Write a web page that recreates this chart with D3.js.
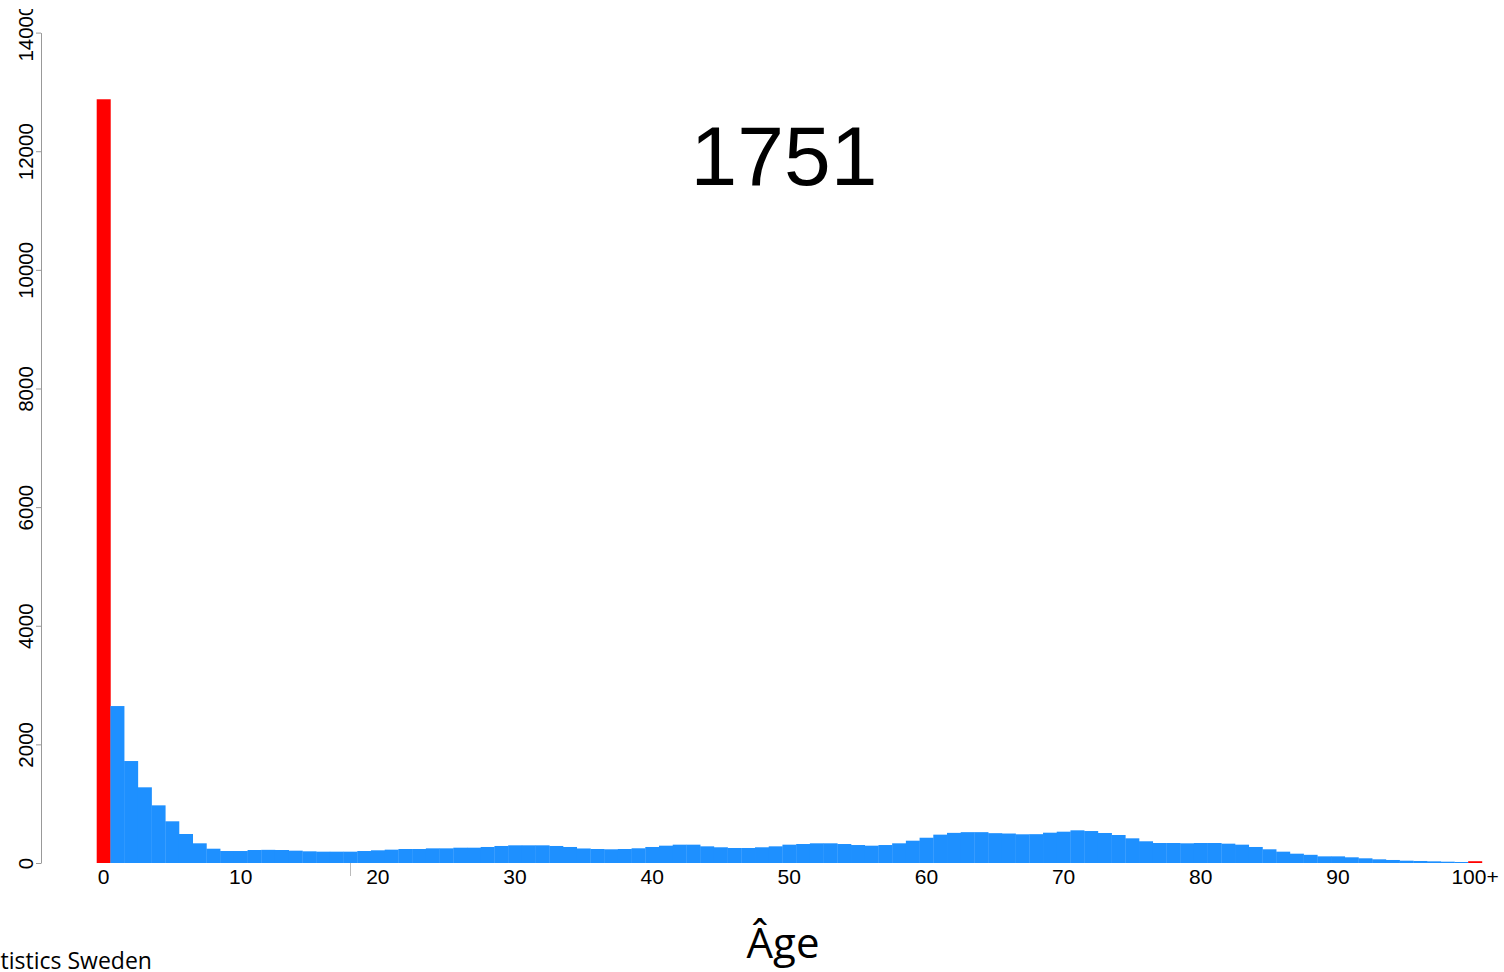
<!DOCTYPE html>
<html>
<head>
<meta charset="utf-8">
<script src="https://cdn.jsdelivr.net/npm/d3@7"></script>
<style>
  html, body { margin: 0; padding: 0; background: #fff; overflow: hidden; }
  svg { display: block; }
</style>
</head>
<body>
<svg id="chart"></svg>
<script>
const WIDTH = 1504
const HEIGHT = 972

// deaths by age, one value per year of age (last one is 100+)
const ages = d3.range(0, 101)
const deaths = [
    12876, 2646, 1719, 1276, 972, 703, 489, 332, 241, 202,
    202, 219, 222, 219, 208, 197, 191, 191, 191, 202,
    214, 225, 236, 236, 247, 247, 258, 258, 270, 287,
    298, 298, 298, 287, 270, 245, 236, 231, 236, 248,
    270, 292, 309, 309, 281, 265, 253, 253, 265, 281,
    309, 320, 332, 332, 320, 303, 292, 303, 332, 376,
    426, 478, 508, 520, 520, 503, 497, 484, 486, 511,
    528, 551, 539, 506, 472, 416, 366, 337, 337, 332,
    337, 337, 326, 309, 270, 231, 191, 157, 138, 112,
    112, 96, 79, 62, 51, 39, 34, 28, 22, 17,
    30
]
const highlightAges = [0, 100]
const xTickAges = [0, 10, 20, 30, 40, 50, 60, 70, 80, 90, 100]
const xTickLabels = ['0', '10', '20', '30', '40', '50', '60', '70', '80', '90', '100+']
const markAges = [18]
const yTicks = [0, 2000, 4000, 6000, 8000, 10000, 12000, 14000]
const yearLabel = '1751'
const xTitle = 'Âge'
const sourceLabel = 'Statistics Sweden'

const BLUE = '#1e90ff'
const RED = '#ff0000'

const svg = d3.select('#chart').attr('width', WIDTH).attr('height', HEIGHT)

const xScale = d3.scaleLinear().domain([-0.5, 100.5]).range([96.7, 1481.9])
const yScale = d3.scaleLinear().domain([0, 14000]).range([863, 32.6])
const barW = xScale(1) - xScale(0)

// bars
svg.append('g').selectAll('rect').data(ages).enter()
    .append('rect')
    .attr('x', d => xScale(d - 0.5))
    .attr('y', d => yScale(deaths[d]))
    .attr('width', barW + 0.3)
    .attr('height', d => yScale(0) - yScale(deaths[d]))
    .attr('fill', d => highlightAges.includes(d) ? RED : BLUE)

// y axis (labels clipped at the top edge like the frame)
svg.append('defs').append('clipPath').attr('id', 'frame-clip')
    .append('rect').attr('x', -100).attr('y', 9).attr('width', WIDTH).attr('height', HEIGHT)

const yAxis = svg.append('g')
    .attr('transform', 'translate(41,0)')
    .attr('clip-path', 'url(#frame-clip)')
    .call(d3.axisLeft(yScale).tickValues(yTicks).tickSize(5).tickSizeOuter(0).tickFormat(d3.format('d')))
yAxis.select('.domain').attr('stroke', '#999')
yAxis.selectAll('.tick line').attr('stroke', '#999')
yAxis.selectAll('.tick text')
    .attr('x', null).attr('dy', null)
    .attr('transform', 'translate(-8,0) rotate(-90)')
    .attr('text-anchor', 'middle')
    .attr('font-family', 'Liberation Sans, Arial, sans-serif')
    .attr('font-size', 20.5)
    .attr('fill', '#000')

// x tick labels
svg.append('g').selectAll('text').data(xTickAges).enter()
    .append('text')
    .attr('x', d => xScale(d))
    .attr('y', 884)
    .attr('text-anchor', 'middle')
    .attr('font-family', 'Liberation Sans, Arial, sans-serif')
    .attr('font-size', 21)
    .text((d, i) => xTickLabels[i])

// small mark below the axis
svg.append('g').selectAll('line').data(markAges).enter()
    .append('line')
    .attr('x1', d => Math.round(xScale(d)) + 0.5).attr('x2', d => Math.round(xScale(d)) + 0.5)
    .attr('y1', 863).attr('y2', 876)
    .attr('stroke', '#bbb').attr('stroke-width', 1)

// year
svg.append('text')
    .attr('x', 784).attr('y', 185)
    .attr('text-anchor', 'middle')
    .attr('font-family', 'Liberation Sans, Arial, sans-serif')
    .attr('font-size', 84)
    .text(yearLabel)

// axis title
svg.append('text')
    .attr('x', 783).attr('y', 958)
    .attr('text-anchor', 'middle')
    .attr('font-family', 'Open Sans, sans-serif')
    .attr('font-size', 42)
    .text(xTitle)

// source
svg.append('text')
    .attr('x', -33).attr('y', 969)
    .attr('text-anchor', 'start')
    .attr('font-family', 'Open Sans, sans-serif')
    .attr('font-size', 23)
    .text(sourceLabel)
</script>
</body>
</html>
